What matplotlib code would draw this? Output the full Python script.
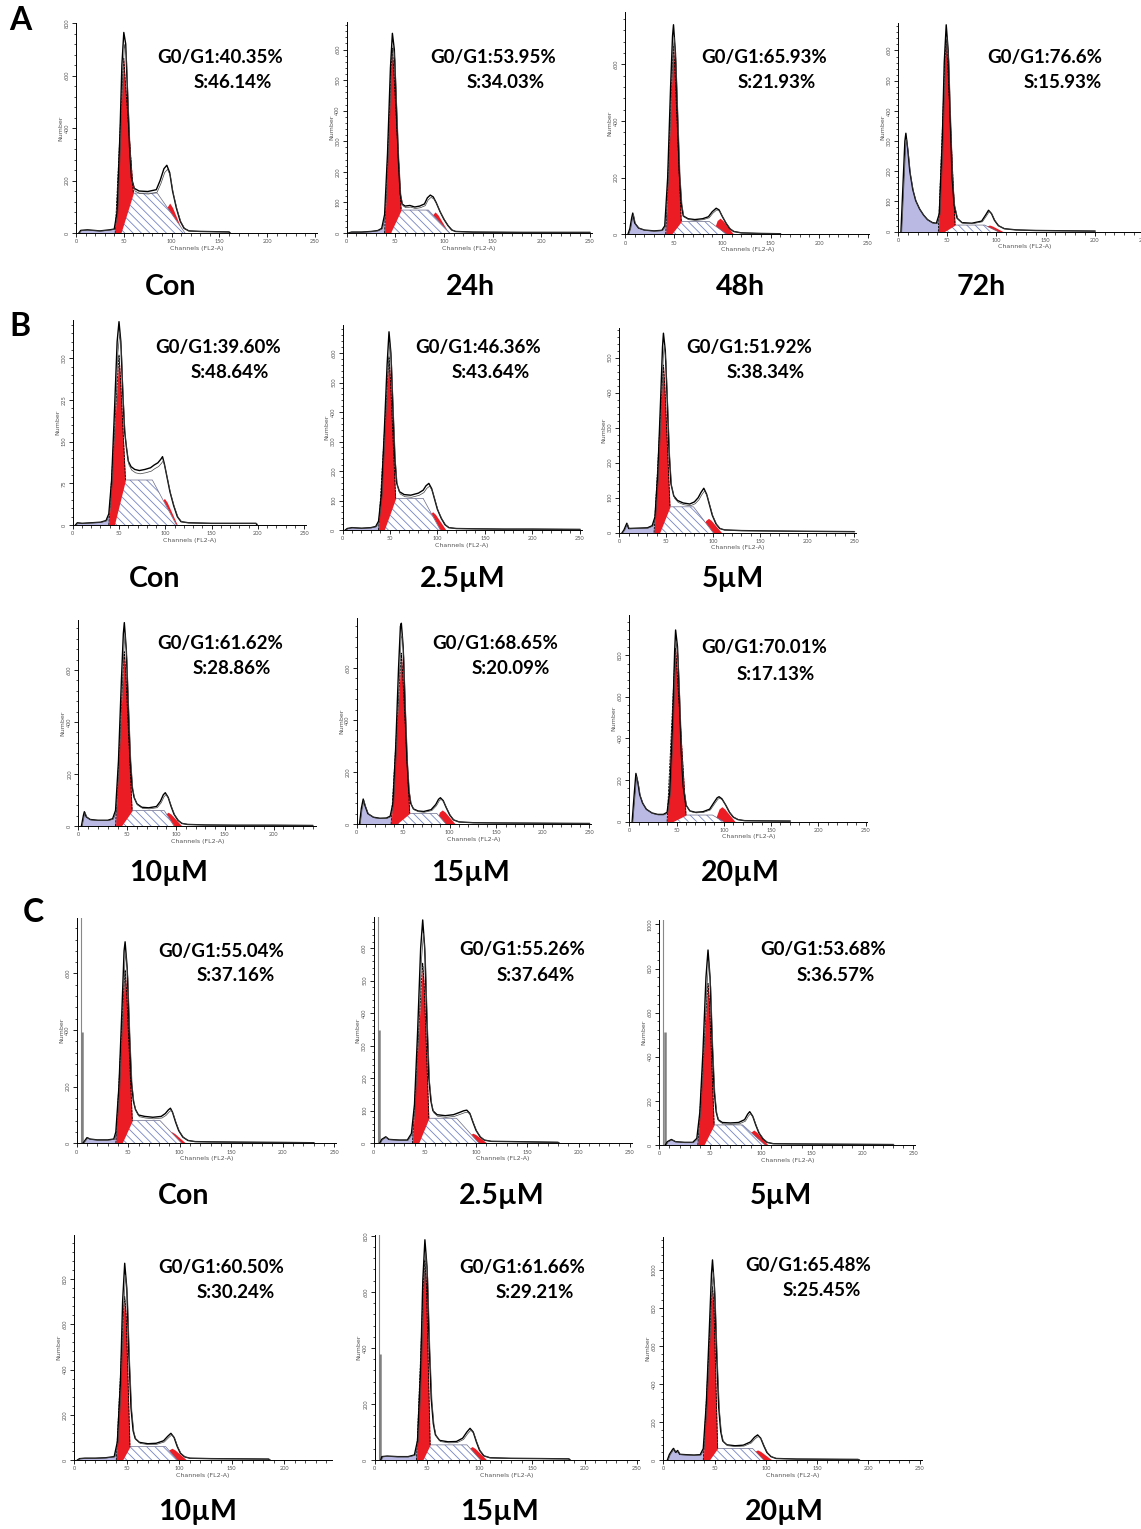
import matplotlib
matplotlib.use("Agg")
import matplotlib.pyplot as plt
import numpy as np

plt.rcParams['font.family'] = ['Lato', 'DejaVu Sans']
plt.rcParams['hatch.linewidth'] = 0.6

W, H = 1141, 1529

# ---- data ----------------------------------------------------------------
labels = ["Con", "24h", "48h", "72h",
          "Con", "2.5\u00b5M", "5\u00b5M", "10\u00b5M", "15\u00b5M", "20\u00b5M",
          "Con", "2.5\u00b5M", "5\u00b5M", "10\u00b5M", "15\u00b5M", "20\u00b5M"]
g1_pct = ["40.35%", "53.95%", "65.93%", "76.6%",
          "39.60%", "46.36%", "51.92%", "61.62%", "68.65%", "70.01%",
          "55.04%", "55.26%", "53.68%", "60.50%", "61.66%", "65.48%"]
s_pct = ["46.14%", "34.03%", "21.93%", "15.93%",
         "48.64%", "43.64%", "38.34%", "28.86%", "20.09%", "17.13%",
         "37.16%", "37.64%", "36.57%", "30.24%", "29.21%", "25.45%"]

# measured histograms (channel, count)
env_a1 = [(3,0),(5,10),(12,12),(25,8),(35,12),(40,15),(43,80),(46,380),(48,640),(50,764),(52,720),(54,520),(56,330),(58,210),(61,170),(66,160),(75,158),(84,165),(88,200),(92,245),(95,258),(98,230),(101,160),(105,95),(109,45),(113,18),(118,8),(130,6),(145,5),(160,4),(161,0)]
env_a2 = [(2,0),(5,3),(15,3),(25,5),(32,8),(36,15),(39,60),(42,260),(45,540),(47,653),(49,600),(51,420),(53,250),(55,130),(57,95),(60,88),(65,90),(70,85),(75,88),(80,95),(83,115),(86,124),(89,118),(92,100),(96,70),(100,45),(104,25),(108,10),(112,5),(130,3),(180,2),(250,2)]
env_a3 = [(3,0),(5,20),(7,60),(8,75),(10,40),(14,22),(20,15),(30,12),(38,14),(41,30),(44,200),(47,520),(49,700),(50,740),(52,640),(54,430),(56,220),(58,110),(60,65),(65,55),(72,52),(80,55),(86,62),(90,80),(94,92),(97,86),(100,65),(104,40),(108,20),(112,10),(120,5),(140,3),(160,2)]
env_a4 = [(3,0),(5,150),(7,300),(8,326),(10,270),(12,200),(15,140),(18,103),(22,75),(26,55),(30,40),(35,30),(39,28),(42,60),(45,300),(47,560),(49,685),(51,600),(53,380),(55,180),(57,90),(60,45),(65,30),(75,28),(85,35),(89,55),(92,71),(95,60),(98,38),(102,20),(108,10),(120,6),(140,4),(170,3),(200,2)]
env_b1 = [(3,0),(5,4),(10,3),(20,4),(30,5),(36,8),(39,20),(42,80),(45,200),(48,330),(50,366),(52,330),(54,240),(56,170),(58,140),(60,115),(63,105),(67,100),(72,98),(78,100),(84,103),(88,108),(92,112),(95,118),(97,123),(99,110),(102,85),(105,60),(109,35),(113,15),(117,6),(125,4),(150,3),(175,3),(198,3),(199,0)]
env_b2 = [(3,0),(5,5),(10,8),(20,6),(30,8),(35,12),(38,30),(41,120),(44,330),(47,560),(49,672),(51,600),(53,420),(55,250),(57,160),(60,130),(65,120),(72,118),(80,125),(85,135),(88,150),(91,158),(94,140),(97,105),(100,70),(104,40),(108,18),(112,8),(120,5),(140,4),(170,3),(200,3),(250,2)]
env_b3 = [(3,0),(5,8),(8,27),(10,12),(20,13),(30,14),(35,20),(38,45),(41,170),(44,380),(46,530),(47,570),(49,520),(51,380),(53,230),(55,140),(58,105),(62,92),(68,85),(75,82),(80,88),(84,100),(87,115),(90,127),(93,110),(96,80),(99,50),(103,25),(107,12),(112,8),(130,6),(160,5),(200,4),(250,3)]
env_b4 = [(3,0),(5,40),(6,55),(8,35),(12,25),(20,22),(30,22),(35,28),(38,60),(41,250),(44,560),(46,740),(47,782),(49,680),(51,460),(53,260),(55,150),(57,110),(60,85),(65,72),(72,70),(80,75),(84,95),(87,120),(89,128),(92,110),(95,75),(98,45),(102,22),(106,10),(112,6),(130,4),(160,3),(200,3),(240,2)]
env_b5 = [(3,0),(5,60),(7,96),(9,70),(12,40),(18,26),(25,22),(32,23),(36,30),(39,80),(42,300),(45,600),(47,760),(48,772),(50,680),(52,450),(54,250),(56,130),(58,80),(61,58),(66,50),(72,48),(80,55),(85,75),(88,95),(90,101),(93,90),(96,65),(100,35),(104,16),(110,8),(125,5),(150,4),(200,3),(250,2)]
env_b6 = [(3,0),(5,120),(7,232),(9,190),(11,130),(14,90),(18,60),(24,42),(30,35),(36,35),(40,45),(43,150),(46,500),(48,820),(49,921),(51,840),(53,600),(55,330),(57,170),(60,80),(64,52),(70,45),(78,48),(85,60),(90,95),(93,115),(95,120),(98,110),(102,80),(106,45),(110,22),(115,10),(122,5),(140,4),(170,3)]
env_c1 = [(6,0),(8,10),(10,20),(13,15),(20,12),(30,12),(36,15),(38,40),(41,200),(44,480),(46,680),(47,712),(49,620),(51,400),(53,220),(55,150),(57,120),(60,100),(66,95),(74,92),(82,95),(86,105),(89,118),(91,124),(93,110),(96,75),(99,45),(103,22),(108,10),(115,6),(130,5),(160,4),(200,3),(230,2)]
env_c2 = [(6,0),(8,12),(12,20),(15,12),(25,10),(33,10),(37,30),(40,120),(43,340),(46,600),(48,687),(50,600),(52,380),(54,200),(56,130),(58,100),(62,88),(70,85),(78,88),(84,95),(88,100),(91,102),(94,92),(97,65),(100,40),(104,20),(108,10),(115,6),(140,5),(160,4),(180,3),(181,0)]
env_c3 = [(6,0),(8,15),(12,25),(16,15),(25,12),(33,12),(37,30),(40,150),(43,420),(46,760),(48,884),(50,760),(52,470),(54,250),(56,150),(58,115),(62,102),(70,100),(78,102),(84,115),(87,140),(89,151),(92,130),(95,90),(98,55),(102,28),(106,12),(112,6),(130,5),(160,4),(200,3),(230,2)]
env_c4 = [(3,0),(5,6),(10,8),(20,8),(30,10),(38,15),(41,80),(44,350),(46,700),(48,870),(50,760),(52,460),(54,230),(56,130),(58,95),(62,78),(70,72),(78,74),(85,85),(89,105),(92,118),(95,100),(98,60),(101,30),(105,14),(110,8),(130,6),(160,5),(185,4),(186,0)]
env_c5 = [(6,0),(7,12),(12,14),(22,12),(32,12),(38,18),(41,70),(44,330),(46,640),(48,786),(50,690),(52,420),(54,220),(56,130),(58,90),(62,70),(70,65),(78,66),(84,78),(88,100),(91,113),(94,100),(97,65),(100,35),(104,15),(110,8),(130,6),(160,5),(185,4),(186,0)]
env_c6 = [(4,0),(6,30),(9,55),(10,61),(12,40),(14,50),(16,30),(22,28),(30,26),(36,28),(39,60),(42,300),(45,700),(47,980),(48,1053),(50,900),(52,560),(54,280),(56,150),(58,100),(62,80),(70,75),(78,78),(85,95),(89,120),(92,132),(95,115),(98,75),(101,40),(105,18),(110,8),(130,5),(160,4),(190,3),(191,0)]
envs = [env_a1, env_a2, env_a3, env_a4, env_b1, env_b2, env_b3, env_b4, env_b5,
        env_b6, env_c1, env_c2, env_c3, env_c4, env_c5, env_c6]

# fitted model components (channels / counts)
g1_left = [41, 39, 42, 41, 39, 38, 37, 38, 37, 40, 38, 38, 38, 40, 40, 39]
g1_ch = [50, 47, 50, 49, 50, 49, 47, 47, 48, 49, 47, 48, 48, 48, 48, 48]
g1_red = [665, 604, 663, 636, 306, 587, 479, 670, 657, 833, 612, 554, 733, 723, 714, 912]
s_h = [152, 75, 45, 22, 81, 107, 74, 59, 41, 32, 80, 77, 91, 59, 54, 61]
s_from = [60, 56, 58, 58, 57, 56, 54, 55, 57, 60, 54, 54, 54, 53, 53, 53]
s_to = [85, 84, 87, 88, 86, 85, 79, 88, 86, 88, 81, 81, 82, 87, 88, 87]
s_end = [114, 106, 105, 102, 112, 103, 100, 98, 96, 100, 102, 103, 104, 98, 101, 98]
g2_ch = [98, 91, 98, 93, 99, 95, 95, 92, 92, 98, 92, 97, 93, 93, 93, 92]
g2_red = [114, 69, 57, 22, 48, 62, 41, 53, 54, 72, 41, 31, 68, 52, 48, 53]
# bar near channel 5 in panel C (0 = none)
spike_h = [0, 0, 0, 0, 0, 0, 0, 0, 0, 0, 394, 349, 514, 0, 380, 0]

# axis ranges and tick steps
y_max = [800, 690, 786, 690, 369, 695, 584, 792, 791, 993, 795, 697, 1020, 995, 803, 1175]
y_step = [200, 100, 200, 100, 75, 100, 100, 200, 200, 200, 200, 100, 200, 200, 200, 200]
x_max = [252, 252, 252, 258, 252, 252, 252, 244, 252, 252, 252, 252, 252, 245, 252, 252]

# ---- layout (pixels): y-axis x, x-axis y, px per channel, axis top ------
geom = [(76, 233, 0.956, 23), (346.7, 233, 0.972, 22), (625, 234.3, 0.970, 11.7),
        (898, 231.7, 0.984, 23.3),
        (72.7, 525, 0.926, 320), (342.5, 530, 0.949, 325), (619.3, 532.7, 0.939, 328.3),
        (78.5, 826, 0.975, 620), (356.7, 824, 0.93, 618.3), (629.3, 821.7, 0.945, 615),
        (76.7, 1143.3, 1.03, 918.3), (373.5, 1143.3, 1.025, 916.7), (659.2, 1145, 1.017, 920),
        (74.3, 1460, 1.05, 1235), (374.5, 1460, 1.05, 1235), (663.3, 1460, 1.025, 1236.7)]
txt_pos = [(157, 58, 194, 82), (430, 58, 467, 82), (701, 57, 738, 82), (987, 57, 1024, 82),
           (155, 347, 191, 372), (415, 347, 452, 372), (686, 347, 727, 372),
           (157, 643, 193, 669), (432, 643, 472, 669), (701, 648, 737, 674),
           (158, 952, 197, 976), (459, 950, 497, 976), (760, 950, 797, 976),
           (158, 1267, 197, 1292), (459, 1267, 496, 1292), (745, 1265, 783, 1290)]
lab_pos = [(171, 287), (470, 287), (740, 287), (981, 287),
           (155, 579), (463, 579), (733, 579),
           (169, 873), (470, 873), (740, 873),
           (184, 1196), (502, 1196), (781, 1196),
           (198, 1512), (499, 1512), (784, 1512)]

RED = "#ec1c24"
LAV = "#b9b9e3"
HATCH = "#7484c4"

fig = plt.figure(figsize=(W / 100, H / 100), dpi=100)


def draw_panel(i):
    L, Y0, k, T = geom[i]
    xmax = x_max[i]
    ax = fig.add_axes([L / W, 1 - Y0 / H, xmax * k / W, (Y0 - T) / H])
    env = np.array(envs[i], dtype=float)
    xs = np.linspace(0, xmax, 3000)
    ey = np.interp(xs, env[:, 0], env[:, 1], left=0, right=0)

    # debris on the left
    m = xs <= g1_left[i] + 1
    ax.fill_between(xs[m], 0, ey[m], color=LAV, lw=0)

    # S phase (hatched)
    sx = [g1_left[i] + 6, s_from[i], s_to[i], s_end[i]]
    sy = [0, s_h[i], s_h[i], 0]
    sc = np.interp(xs, sx, sy, left=0, right=0)
    ax.fill_between(xs, 0, sc, where=sc > 0, facecolor="white", edgecolor=HATCH,
                    hatch="\\\\\\\\", lw=0)
    ax.plot(sx[1:], sy[1:], color="#6a6a8a", lw=0.5)

    # G0/G1 peak
    c, r = g1_ch[i], g1_red[i]
    gx = [g1_left[i], c - 1.2, c, c + 1.4, s_from[i]]
    gy = [0, 0.9 * r, r, 0.88 * r, s_h[i]]
    gc = np.interp(xs, gx, gy, left=0, right=0)
    ax.fill_between(xs, sc, gc, where=gc > sc, color=RED, lw=0)
    ax.plot(gx, gy, color="black", lw=0.6, ls=(0, (3, 1)))

    # G2 peak
    c2, r2 = g2_ch[i], g2_red[i]
    hx = [c2 - 8, c2 - 3, c2, c2 + 3, c2 + 14]
    hy = [0, 0.85 * r2, r2, 0.85 * r2, 0]
    hc = np.interp(xs, hx, hy, left=0, right=0)
    ax.fill_between(xs, sc, hc, where=hc > sc, color=RED, lw=0)

    if spike_h[i]:
        ax.axvline(4, color="#888888", lw=0.8)
        ax.vlines(5.5, 0, spike_h[i], color="#808080", lw=1.8)

    ax.plot(env[:, 0], env[:, 1], color="black", lw=1.0)
    ax.plot(env[:, 0] + 0.8, env[:, 1] * 0.94, color="#444444", lw=0.5)

    ax.set_xlim(0, xmax)
    ax.set_ylim(0, y_max[i])
    ax.set_xticks(np.arange(0, xmax + 1, 50))
    ax.set_xticks(np.arange(0, xmax + 1, 10), minor=True)
    ax.set_yticks(np.arange(0, y_max[i] + 1, y_step[i]))
    ax.set_yticks(np.arange(0, y_max[i] + 1, y_step[i] / 5), minor=True)
    ax.tick_params(which="major", length=3, width=0.6, labelsize=4, pad=1.5,
                   labelcolor="#555555")
    ax.tick_params(which="minor", length=1.8, width=0.5)
    for t in ax.get_yticklabels():
        t.set_rotation(90)
        t.set_va("center")
    for s in ["top", "right"]:
        ax.spines[s].set_visible(False)
    for s in ["left", "bottom"]:
        ax.spines[s].set_linewidth(0.7)
    ax.patch.set_alpha(0)
    ax.set_xlabel("Channels (FL2-A)", fontsize=4.5, labelpad=1, color="#555555",
                  family="DejaVu Sans")
    ax.set_ylabel("Number", fontsize=4.5, labelpad=1, color="#555555",
                  family="DejaVu Sans")

    gx0, gy0, sx0, sy0 = txt_pos[i]
    fig.text(gx0 / W, 1 - gy0 / H, "G0/G1:" + g1_pct[i], fontsize=13.5,
             weight="bold", va="center", ha="left")
    fig.text(sx0 / W, 1 - sy0 / H, "S:" + s_pct[i], fontsize=13.5,
             weight="bold", va="center", ha="left")
    lx, ly = lab_pos[i]
    fig.text(lx / W, 1 - ly / H, labels[i], fontsize=20.5, weight="bold",
             ha="center", va="center")


for i in range(len(labels)):
    draw_panel(i)

fig.text(20 / W, 1 - 21 / H, "A", fontsize=23, weight="bold", ha="center", va="center")
fig.text(20 / W, 1 - 326 / H, "B", fontsize=23, weight="bold", ha="center", va="center")
fig.text(33 / W, 1 - 913 / H, "C", fontsize=23, weight="bold", ha="center", va="center")

fig.savefig("out.png", dpi=100)
